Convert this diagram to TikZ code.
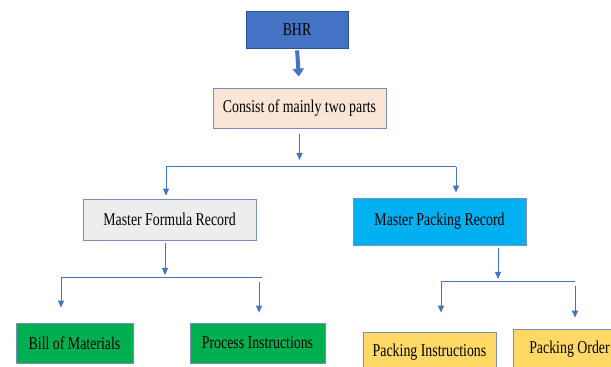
\documentclass[tikz,border=0pt]{standalone}
\usepackage{fontspec}
\setmainfont{Liberation Serif}[FakeStretch=0.77]
\usepackage{xcolor}
\usetikzlibrary{arrows.meta}

\definecolor{bhrblue}{HTML}{4472C4}
\definecolor{bhrline}{HTML}{2F528F}
\definecolor{boxline}{HTML}{7A8FB8}
\definecolor{peach}{HTML}{FBE5D6}
\definecolor{lightgray}{HTML}{EDEDED}
\definecolor{skyblue}{HTML}{00B0F0}
\definecolor{leafgreen}{HTML}{00B050}
\definecolor{goldyellow}{HTML}{FFD966}

\begin{document}
\begin{tikzpicture}[x=1pt,y=1pt,
    blk/.style={draw=boxline, line width=0.8pt, inner sep=0pt, font=\fontsize{18}{20}\selectfont},
    arr/.style={draw=bhrblue, line width=1pt, -{Triangle[width=6pt,length=7pt]}},
    bar/.style={draw=bhrblue, line width=1pt}]
    \useasboundingbox (0,0) rectangle (611,367);
    % top of the tree
    \node[blk, fill=bhrblue, draw=bhrline, minimum width=102, minimum height=37] (bhr) at (297,337.5) {BHR};
    \node[blk, fill=peach, minimum width=173, minimum height=40] (parts) at (299.5,259) {Consist of mainly two parts};
    \draw[draw=bhrblue, line width=4pt, -{Triangle[width=11pt,length=8pt]}, shorten <=2pt, shorten >=11pt] (bhr.south) -- (parts.north);
    % the two records
    \node[blk, fill=lightgray, minimum width=173, minimum height=41] (mfr) at (169.5,147.5) {Master Formula Record};
    \node[blk, fill=skyblue, minimum width=173, minimum height=47] (mpr) at (439.5,145.5) {Master Packing Record};
    \coordinate (tip1) at (299.5,207);
    \coordinate (bar1l) at (166,200);
    \coordinate (bar1r) at (456,200);
    \draw[arr, shorten <=6pt] (parts.south) -- (tip1);
    \draw[bar] (bar1l) -- (bar1r);
    \draw[arr, shorten >=3pt] (bar1l) -- (bar1l |- mfr.north);
    \draw[arr, shorten >=5pt] (bar1r) -- (bar1r |- mpr.north);
    % leaves
    \node[blk, fill=leafgreen, minimum width=117, minimum height=40] (bom) at (74.5,24) {Bill of Materials};
    \node[blk, fill=leafgreen, minimum width=135, minimum height=40] (proc) at (257.5,24) {Process Instructions};
    \node[blk, fill=goldyellow, minimum width=133, minimum height=40] (packins) at (429.5,15) {Packing Instructions};
    \node[blk, fill=goldyellow, minimum width=113, minimum height=40] (packord) at (569.5,18) {Packing Order};
    % formula side
    \coordinate (tip2) at (165,92);
    \coordinate (bar2l) at (61,89);
    \coordinate (bar2r) at (262,89);
    \coordinate (drop2r) at (259,85);
    \draw[arr, shorten <=3pt] (mfr.south -| tip2) -- (tip2);
    \draw[bar] (bar2l) -- (bar2r);
    \draw[arr, shorten >=15pt] (bar2l) -- (bar2l |- bom.north);
    \draw[arr, shorten >=10pt] (drop2r) -- (drop2r |- proc.north);
    % packing side
    \coordinate (tip3) at (498,88);
    \coordinate (bar3l) at (441,85);
    \coordinate (bar3r) at (575,85);
    \coordinate (drop3r) at (575,81);
    \draw[arr, shorten <=3pt] (mpr.south -| tip3) -- (tip3);
    \draw[bar] (bar3l) -- (bar3r);
    \draw[arr, shorten >=19pt] (bar3l) -- (bar3l |- packins.north);
    \draw[arr, shorten >=11pt] (drop3r) -- (drop3r |- packord.north);
\end{tikzpicture}
\end{document}
